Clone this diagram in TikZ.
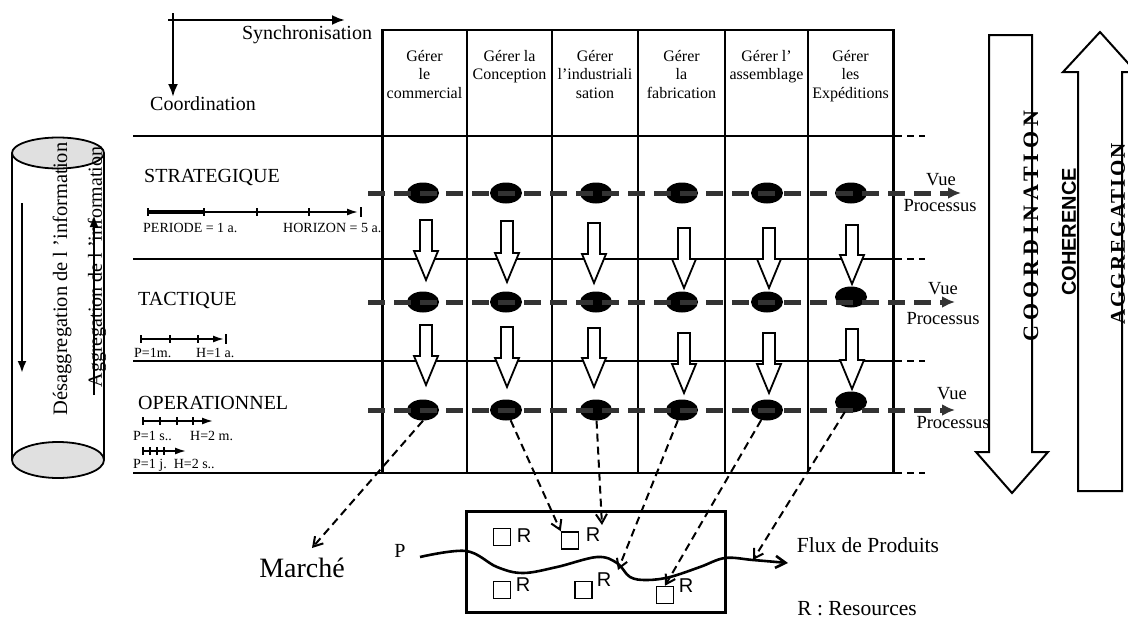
\documentclass[tikz,border=0pt]{standalone}
\usepackage{fontspec}
\setmainfont{Liberation Serif}
\newfontfamily\sansR{Liberation Sans}
\newfontfamily\wideA[LetterSpace=22]{Liberation Serif}
\newfontfamily\wideB[LetterSpace=10]{Liberation Serif}
\usepackage{tikz}
\usetikzlibrary{positioning, arrows.meta, shapes.geometric, calc}

% hollow arrow pointing down: x, top, tip
\newcommand{\hollowdown}[3]{%
  \draw[line width=1.8pt, fill=white] (#1-6,#2) -- (#1+6,#2) -- (#1+6,#3-29)
    -- (#1+12,#3-29) -- (#1,#3) -- (#1-12,#3-29) -- (#1-6,#3-29) -- cycle;}

\begin{document}
\begin{tikzpicture}[x=1pt, y=-1pt,
    proc/.style={ellipse, fill=black, minimum width=32pt, minimum height=21pt, inner sep=0pt},
    vue/.style={draw=black!80, line width=5pt, dash pattern=on 17pt off 9pt,
      -{Latex[length=13pt,width=12pt]}},
    link/.style={line width=2pt, dash pattern=on 8pt off 5pt,
      -{Straight Barb[length=9pt,width=11pt]}},
    stub/.style={line width=2pt, dash pattern=on 7pt off 5pt},
    hdr/.style={font=\fontsize{16}{18.5}\selectfont, align=center, anchor=north, inner sep=0pt},
    lvlname/.style={font=\fontsize{20}{22}\selectfont, anchor=west, inner sep=0pt},
    scalelab/.style={font=\fontsize{14}{16}\selectfont, anchor=west, inner sep=0pt},
    vp/.style={font=\fontsize{18.5}{20}\selectfont, inner sep=0pt},
    res/.style={draw, line width=1.5pt, minimum size=17pt, inner sep=0pt},
    rlab/.style={font=\sansR\fontsize{20}{22}\selectfont, inner sep=0pt}]
    \useasboundingbox (0,0) rectangle (1128,619);

    % Axes in the corner
    \coordinate (ax0) at (173,13);
    \coordinate (axdown) at (173,97);
    \coordinate (ax1) at (168,20);
    \coordinate (axright) at (345,20);
    \draw[line width=2.4pt, -{Latex[length=13pt,width=10pt]}] (ax0) -- (axdown);
    \draw[line width=2.4pt, -{Latex[length=13pt,width=10pt]}] (ax1) -- (axright);
    \node[font=\fontsize{20}{22}\selectfont] (sync) at (307,35) {Synchronisation};
    \node[font=\fontsize{20}{22}\selectfont] (coord) at (203,104) {Coordination};

    % Cylinder of information
    \draw[line width=1.8pt] (12,153) -- (12,460);
    \draw[line width=1.8pt] (104,153) -- (104,460);
    \draw[line width=1.8pt, fill=black!12] (58,153) ellipse [x radius=46pt, y radius=15.5pt];
    \draw[line width=1.8pt, fill=black!12] (58,460) ellipse [x radius=46pt, y radius=18pt];
    \node[rotate=90, font=\fontsize{20.5}{22}\selectfont] (desag) at (62,279) {Désaggregation de l ’information};
    \node[rotate=90, font=\fontsize{20}{22}\selectfont] (aggr) at (97,267) {Aggregation de l ’information};
    \coordinate (dtop) at (22,203);
    \coordinate (dbot) at (22,373);
    \coordinate (atop) at (94,215);
    \coordinate (abot) at (94,395);
    \draw[line width=2.4pt, -{Latex[length=12pt,width=9pt]}] (dtop) -- (dbot);
    \draw[line width=2.4pt, -{Latex[length=12pt,width=9pt]}] (abot) -- (atop);

    % Grid
    \foreach \y in {136,259,361,473}
        \draw[line width=2pt] (133,\y) -- (893,\y);
    \draw[line width=2pt] (382,30) -- (893,30);
    \foreach \x in {467,552,638,725,808}
        \draw[line width=1.6pt] (\x,30) -- (\x,473);
    \draw[line width=3pt] (382,29) -- (382,474);
    \draw[line width=3pt] (893,29) -- (893,474);
    \foreach \y in {136,259,361,473}
        \draw[stub] (895,\y) -- (925,\y);

    % Column headers
    \node[hdr] (h1) at (424.5,50) {Gérer\\le\\commercial};
    \node[hdr] (h2) at (509.5,50) {Gérer la\\Conception};
    \node[hdr] (h3) at (595,50) {Gérer\\l’industriali\\sation};
    \node[hdr] (h4) at (681.5,50) {Gérer\\la\\fabrication};
    \node[hdr] (h5) at (766.5,50) {Gérer l’\\assemblage};
    \node[hdr] (h6) at (850.5,50) {Gérer\\les\\Expéditions};

    % Levels
    \node[lvlname] (strat) at (144,177) {STRATEGIQUE};
    \node[lvlname] (tact) at (138,300) {TACTIQUE};
    \node[lvlname] (oper) at (138,403) {OPERATIONNEL};

    % Time scales
    \draw[line width=1.6pt, -{Latex[length=11pt,width=7pt]}] (148,212) -- (358,212);
    \draw[line width=3.4pt] (148,212) -- (204,212);
    \foreach \x in {148,204,257,309}
        \draw[line width=1.4pt] (\x,208) -- (\x,216);
    \draw[line width=1.4pt] (361,207) -- (361,217);
    \node[scalelab] (per1) at (143,228) {PERIODE = 1 a.};
    \node[scalelab] (hor1) at (283,228) {HORIZON = 5 a.};

    \draw[line width=1.6pt, -{Latex[length=11pt,width=7pt]}] (141,339) -- (224,339);
    \foreach \x in {141,170,198}
        \draw[line width=1.4pt] (\x,335) -- (\x,343);
    \draw[line width=1.4pt] (226,334) -- (226,344);
    \node[scalelab] (per2) at (134,353) {P=1m.};
    \node[scalelab] (hor2) at (196,353) {H=1 a.};

    \draw[line width=1.6pt, -{Latex[length=11pt,width=7pt]}] (143,421) -- (213,421);
    \foreach \x in {143,160,177,193}
        \draw[line width=1.4pt] (\x,417) -- (\x,425);
    \node[scalelab] (per3) at (133,436) {P=1 s..};
    \node[scalelab] (hor3) at (190,436) {H=2 m.};

    \draw[line width=1.6pt, -{Latex[length=11pt,width=7pt]}] (143,451) -- (186,451);
    \foreach \x in {143,150,157,164}
        \draw[line width=1.4pt] (\x,447) -- (\x,455);
    \node[scalelab] (per4) at (133,465) {P=1 j.~~H=2 s..};

    % Processes
    \foreach \n/\x/\yt/\yo in {1/423/302/410, 2/506/302/410, 3/596/302/410,
                              4/682/302/410, 5/767/302/410, 6/851/297/402} {
        \node[proc] (strat\n) at (\x,193) {};
        \node[proc] (tact\n) at (\x,\yt) {};
        \node[proc] (oper\n) at (\x,\yo) {};
    }

    % Process views
    \coordinate (vs1) at (368,193);
    \coordinate (ve1) at (961,193);
    \coordinate (vs2) at (368,302);
    \coordinate (ve2) at (955,302);
    \coordinate (vs3) at (368,410);
    \coordinate (ve3) at (955,410);
    \draw[vue] (vs1) -- (ve1);
    \draw[vue] (vs2) -- (ve2);
    \draw[vue] (vs3) -- (ve3);
    \node[vp] (vue1) at (941,180) {Vue};
    \node[vp] (pro1) at (940,206) {Processus};
    \node[vp] (vue2) at (943,289) {Vue};
    \node[vp] (pro2) at (943,319) {Processus};
    \node[vp] (vue3) at (952,394) {Vue};
    \node[vp] (pro3) at (953,423) {Processus};

    % Decisions going down
    \foreach \x/\ta/\pa/\tb/\pb in {426/220/280/325/385, 507/221/282/327/387,
                                    594/223/283/328/387, 684/228/288/333/393,
                                    769/228/288/333/393, 852/225/284/329/389} {
        \hollowdown{\x}{\ta}{\pa}
        \hollowdown{\x}{\tb}{\pb}
    }

    % Big arrows on the right
    \draw[line width=2pt, fill=white] (989,35) -- (1032,35) -- (1032,452) -- (1048,452)
        -- (1012,493) -- (976,452) -- (989,452) -- cycle;
    \draw[line width=2pt, fill=white] (1078,491) -- (1122,491) -- (1122,72) -- (1136,72)
        -- (1100,32) -- (1063,72) -- (1078,72) -- cycle;
    \node[rotate=90, font=\wideA\bfseries\fontsize{22}{24}\selectfont] (coordtxt) at (1031,226) {COORDINATION};
    \node[rotate=90, font=\sansR\bfseries\fontsize{20}{22}\selectfont] (coh) at (1069,232) {COHERENCE};
    \node[rotate=90, font=\wideB\bfseries\fontsize{21}{23}\selectfont] (aggtxt) at (1118,234) {AGGREGATION};

    % Shop floor
    \draw[line width=3pt] (466,511) rectangle (725,612);
    \node[res] (r1) at (502,537) {};
    \node[res] (r2) at (570,540.5) {};
    \node[res] (r3) at (502,590) {};
    \node[res] (r4) at (583.5,590) {};
    \node[res] (r5) at (665,595) {};
    \node[rlab] (l1) at (524,536) {R};
    \node[rlab] (l2) at (593,535) {R};
    \node[rlab] (l3) at (523,585) {R};
    \node[rlab] (l4) at (604,580) {R};
    \node[rlab] (l5) at (686,586) {R};

    % Flow of products
    \node[font=\fontsize{20}{22}\selectfont] (p) at (400,551) {P};
    \draw[line width=2.6pt, -{Straight Barb[length=10pt,width=12pt]}]
        plot[smooth, tension=0.6] coordinates {(420,557) (466,551) (497,567) (523,573)
        (557,567) (597,557) (617,563) (630,577) (647,580) (670,577) (700,567)
        (725,558) (753,560) (788,563)};
    \node[font=\fontsize{21.5}{24}\selectfont] (flux) at (868,545) {Flux de Produits};
    \node[font=\fontsize{21.5}{24}\selectfont] (legend) at (857,609) {R : Resources};
    \node[font=\fontsize{28}{30}\selectfont] (marche) at (302,568) {Marché};

    % Links to the physical system
    \coordinate (tm) at (312,548);
    \coordinate (t3) at (602,525);
    \coordinate (t4) at (618,570);
    \coordinate (t6) at (753,560);
    \draw[link] (oper1.south) -- (tm);
    \draw[link] (oper2) -- (r2.north west);
    \draw[link] (oper3) -- (t3);
    \draw[link] (oper4) -- (t4);
    \draw[link] (oper5) -- (r5.north);
    \draw[link] (oper6) -- (t6);
\end{tikzpicture}
\end{document}
